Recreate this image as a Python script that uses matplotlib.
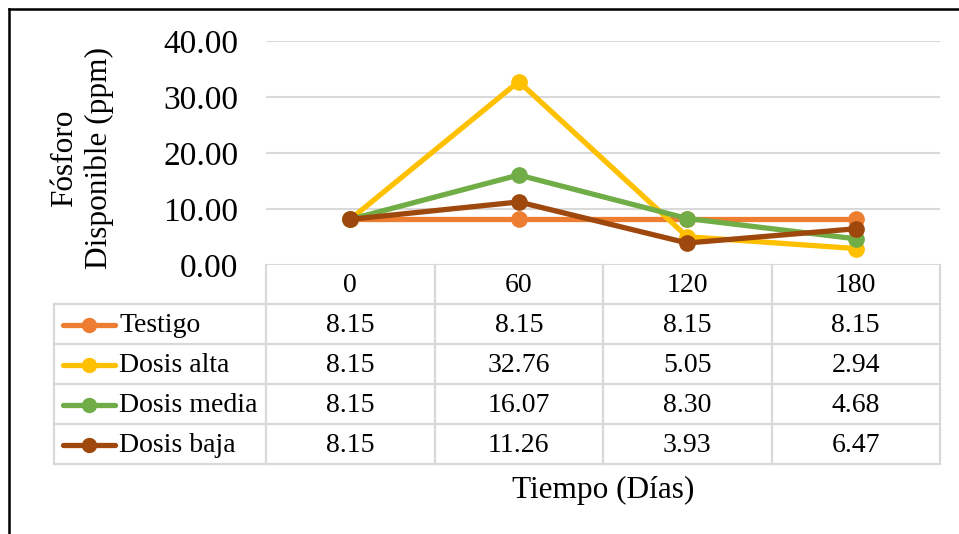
import matplotlib.pyplot as plt
import matplotlib.transforms as mtransforms
from matplotlib.lines import Line2D

# Datos: fósforo disponible (ppm) por tratamiento y tiempo
dias = ["0", "60", "120", "180"]
testigo = [8.15, 8.15, 8.15, 8.15]
dosis_alta = [8.15, 32.76, 5.05, 2.94]
dosis_media = [8.15, 16.07, 8.30, 4.68]
dosis_baja = [8.15, 11.26, 3.93, 6.47]
nombres = ["Testigo", "Dosis alta", "Dosis media", "Dosis baja"]
colores = ["#ED7D31", "#FFC000", "#70AD47", "#9E480E"]
series = [testigo, dosis_alta, dosis_media, dosis_baja]
yticks = [0, 10, 20, 30, 40]

plt.rcParams['font.family'] = ['Liberation Serif', 'DejaVu Serif']
W, H = 959, 534
fig = plt.figure(figsize=(W / 100, H / 100), dpi=100)

def fx(px):
    return px / W

def fy(py):
    return 1 - py / H

fs_tick = 24
fs_title = 22.5
fs_tab = 20
lw_s = 3.8
ms_s = 11

# área de trazado
left, right, top, bottom = 266, 940, 41, 265
ax = fig.add_axes([fx(left), fy(bottom), fx(right) - fx(left), fy(top) - fy(bottom)])
ax.set_xlim(-0.5, len(dias) - 0.5)
ax.set_ylim(0, 40)
ax.set_yticks(yticks)
ax.set_yticklabels([f"{v:.2f}" for v in yticks], fontsize=fs_tick)
ax.tick_params(axis='y', length=0, pad=20)
ax.set_xticks([])
for s in ax.spines.values():
    s.set_visible(False)
grid_c = "#D9D9D9"
for v in yticks:
    ax.axhline(v, color=grid_c, lw=1.5, zorder=0)

x = list(range(len(dias)))
for nombre, vals, c in zip(nombres, series, colores):
    ax.plot(x, vals, color=c, lw=lw_s, marker='o', ms=ms_s, label=nombre,
            solid_capstyle='round', clip_on=False)

# etiqueta del eje Y en dos líneas
fig.text(fx(82), fy(158), "Fósforo\nDisponible (ppm)", rotation=90,
         ha='center', va='center', fontsize=fs_title, linespacing=1.2)

# tabla de datos bajo el gráfico
trans = mtransforms.blended_transform_factory(ax.transData, fig.transFigure)
ftrans = fig.transFigure
row_h = 40
header_bottom = 304
rows_y = [header_bottom + i * row_h for i in range(len(nombres) + 1)]
table_bottom = rows_y[-1]
lw_t = 1.6

# líneas horizontales de la tabla
for yy in rows_y:
    fig.add_artist(Line2D([fx(54), fx(right)], [fy(yy), fy(yy)],
                          color=grid_c, lw=lw_t, transform=ftrans))
# líneas verticales de la tabla
for b in [i - 0.5 for i in range(len(dias) + 1)]:
    fig.add_artist(Line2D([b, b], [fy(bottom), fy(table_bottom)],
                          color=grid_c, lw=lw_t, transform=trans))
fig.add_artist(Line2D([fx(54), fx(54)], [fy(header_bottom), fy(table_bottom)],
                      color=grid_c, lw=lw_t, transform=ftrans))

# encabezado con los días
for i, d in enumerate(dias):
    fig.text(i, fy((bottom + header_bottom) / 2 + 1), d, transform=trans,
             ha='center', va='center', fontsize=fs_tab)

# filas: leyenda + valores
for r, (nombre, vals, c) in enumerate(zip(nombres, series, colores)):
    yc = fy(rows_y[r] + row_h / 2 + 1)
    fig.add_artist(Line2D([fx(63), fx(115)], [yc, yc], color=c, lw=lw_s,
                          transform=ftrans, solid_capstyle='round'))
    fig.add_artist(Line2D([fx(89)], [yc], color=c, marker='o', ms=ms_s - 1,
                          transform=ftrans))
    fig.text(fx(119), yc, nombre, ha='left', va='center', fontsize=fs_tab)
    for i, v in enumerate(vals):
        fig.text(i, yc, f"{v:.2f}", transform=trans,
                 ha='center', va='center', fontsize=fs_tab)

# título del eje X
fig.text((fx(left) + fx(right)) / 2, fy(490), "Tiempo (Días)",
         ha='center', va='center', fontsize=fs_title)

# borde exterior del gráfico (superior e izquierdo visibles)
fig.add_artist(Line2D([fx(9), 1], [fy(9), fy(9)], color='black', lw=1.8, transform=ftrans))
fig.add_artist(Line2D([fx(9), fx(9)], [fy(9), 0], color='black', lw=1.8, transform=ftrans))

fig.savefig("out.png", dpi=100)
